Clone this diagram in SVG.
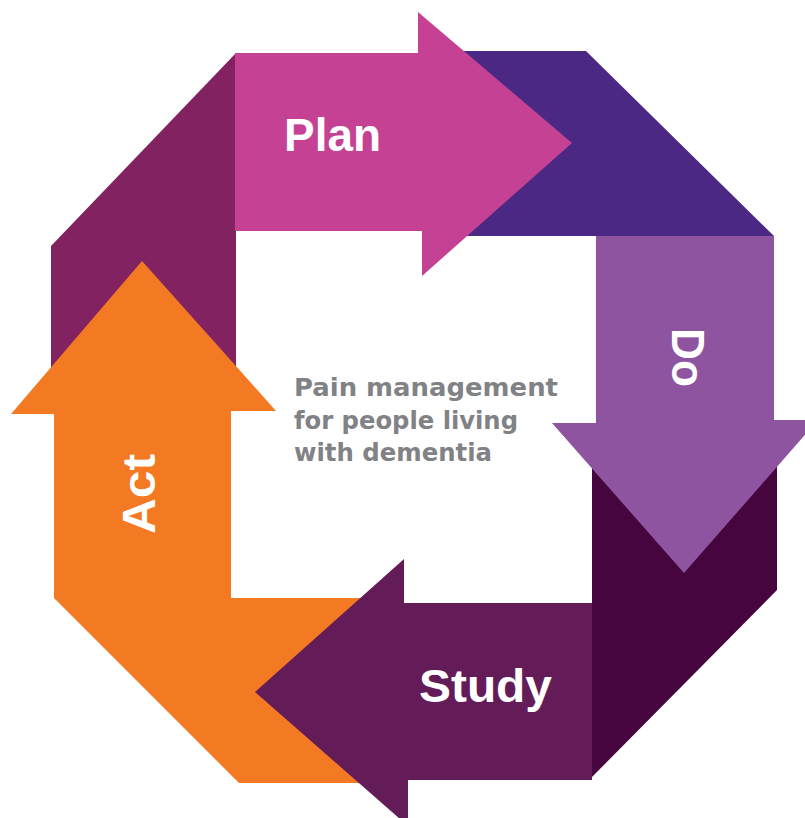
<svg xmlns="http://www.w3.org/2000/svg" width="805" height="818" viewBox="0 0 805 818">
<style>
.lbl{font-family:"Liberation Sans",Arial,sans-serif;font-weight:bold;font-size:46px;fill:#ffffff}
.ctr{font-family:"DejaVu Sans",sans-serif;font-weight:bold;font-size:24px;fill:#818285}
</style>
<rect width="805" height="818" fill="#ffffff"/>
<g id="connectors">
<polygon id="band-top" points="425,51 586,51 774,236 425,236" fill="#4B2884"/>
<polygon id="band-right" points="592,425 777,425 777,590 592,777" fill="#46053E"/>
<polygon id="band-bottom" points="54,598 400,598 400,783 239,783" fill="#F37A22"/>
<polygon id="band-left" points="236,53 51,246 51,400 236,400" fill="#822260"/>
</g>
<g id="plan">
<polygon points="235,53 418,53 418,12 572,143 422,276 422,231 235,231" fill="#C54193"/>
<text class="lbl" x="284" y="151" textLength="97" lengthAdjust="spacingAndGlyphs">Plan</text>
</g>
<g id="do">
<polygon points="596,236 774,236 774,420 818,420 684,573 552,423 596,423" fill="#8E54A0"/>
<text class="lbl" transform="translate(672,357.5) rotate(90)" text-anchor="middle" textLength="59" lengthAdjust="spacingAndGlyphs">Do</text>
</g>
<g id="study">
<polygon points="592,603 592,780 408,780 408,826 255,692 404,559 404,603" fill="#631C58"/>
<text class="lbl" x="419" y="702" textLength="133" lengthAdjust="spacingAndGlyphs">Study</text>
</g>
<g id="act">
<polygon points="54,598 54,414 11,414 142,261 276,411 231,411 231,598" fill="#F37A22"/>
<text class="lbl" transform="translate(155,494) rotate(-90)" text-anchor="middle" textLength="80" lengthAdjust="spacingAndGlyphs">Act</text>
</g>
<g id="center-title">
<text class="ctr" x="294" y="396" textLength="264" lengthAdjust="spacingAndGlyphs">Pain management</text>
<text class="ctr" x="294" y="429" textLength="224" lengthAdjust="spacingAndGlyphs">for people living</text>
<text class="ctr" x="294" y="461" textLength="198" lengthAdjust="spacingAndGlyphs">with dementia</text>
</g>
</svg>
